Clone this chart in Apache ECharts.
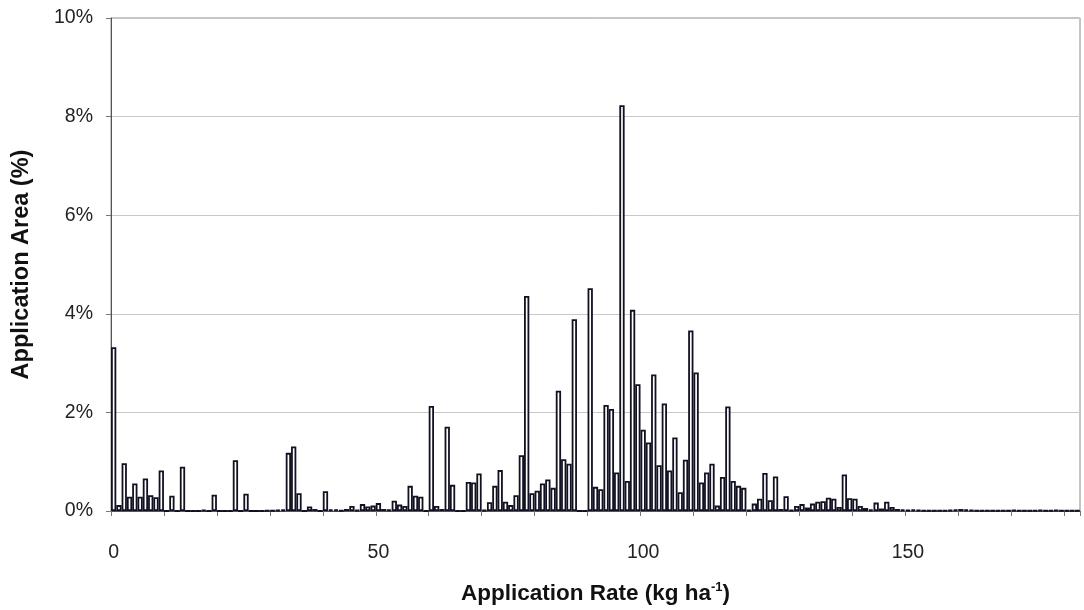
<!DOCTYPE html>
<html>
<head>
<meta charset="utf-8">
<script src="https://cdn.jsdelivr.net/npm/echarts@6/dist/echarts.min.js"></script>
<style>
html,body{margin:0;padding:0;background:#fff;}
#chart{width:1084px;height:610px;}
</style>
</head>
<body>
<div id="chart"></div>
<script>
// Application rate bins (kg/ha), 0..182
const rates = Array.from({length: 183}, (_, i) => String(i));

// Application area (%) per rate bin
const area0to49 = [
  3.32, 0.12, 0.97, 0.29, 0.56, 0.29, 0.66, 0.32, 0.28, 0.82,
  0, 0.31, 0, 0.90, 0, 0, 0, 0.02, 0, 0.33,
  0, 0, 0, 1.03, 0, 0.35, 0, 0, 0, 0.01,
  0.01, 0.02, 0.03, 1.18, 1.31, 0.36, 0, 0.09, 0.04, 0,
  0.40, 0.03, 0.03, 0.01, 0.04, 0.10, 0.02, 0.14, 0.09, 0.11
];
const area50to99 = [
  0.16, 0.04, 0.03, 0.21, 0.13, 0.10, 0.51, 0.31, 0.29, 0,
  2.13, 0.10, 0.04, 1.71, 0.53, 0, 0, 0.59, 0.58, 0.76,
  0.02, 0.18, 0.51, 0.83, 0.19, 0.12, 0.32, 1.13, 4.36, 0.36,
  0.41, 0.56, 0.64, 0.47, 2.44, 1.05, 0.96, 3.89, 0, 0,
  4.52, 0.49, 0.44, 2.15, 2.07, 0.78, 8.23, 0.61, 4.08, 2.57
];
const area100to149 = [
  1.65, 1.39, 2.77, 0.93, 2.18, 0.82, 1.49, 0.38, 1.04, 3.66,
  2.81, 0.58, 0.78, 0.96, 0.11, 0.69, 2.12, 0.61, 0.51, 0.47,
  0.02, 0.15, 0.25, 0.77, 0.22, 0.70, 0.04, 0.30, 0.02, 0.10,
  0.14, 0.07, 0.15, 0.19, 0.20, 0.27, 0.25, 0.08, 0.74, 0.26,
  0.25, 0.10, 0.06, 0.03, 0.17, 0.05, 0.19, 0.08, 0.04, 0.03
];
const area150to182 = [
  0.02, 0.03, 0.02, 0.01, 0.01, 0.01, 0.01, 0.01, 0.02, 0.03,
  0.04, 0.03, 0.02, 0.01, 0.01, 0.01, 0.01, 0.01, 0.01, 0.01,
  0.02, 0.01, 0.01, 0.01, 0.01, 0.02, 0.01, 0.01, 0.02, 0.01,
  0.01, 0.01, 0.01
];
const areaValues = area0to49.concat(area50to99, area100to149, area150to182);

const yTicks = [0, 2, 4, 6, 8, 10];

const chart = echarts.init(document.getElementById('chart'), null, {renderer: 'canvas'});
const FONT = '"Liberation Sans", Arial, sans-serif';

chart.setOption({
  animation: false,
  backgroundColor: '#ffffff',
  grid: {
    left: 111, right: 4, top: 18, bottom: 97,
    show: true, borderColor: '#8a8a8a', borderWidth: 1, backgroundColor: 'transparent'
  },
  xAxis: {
    type: 'category',
    data: rates,
    boundaryGap: true,
    axisLine: {show: true, lineStyle: {color: '#555', width: 1}},
    axisTick: {
      show: true, length: 5, lineStyle: {color: '#777'},
      interval: function (index) { return index % 10 === 0; }
    },
    axisLabel: {
      interval: function (index) { return index % 50 === 0; },
      margin: 32, fontSize: 19.5, color: '#222', fontFamily: FONT
    },
    name: 'Application Rate (kg ha{sup|-1})',
    nameLocation: 'middle',
    nameGap: 70,
    nameTextStyle: {
      fontSize: 22.5, fontWeight: 'bold', color: '#111', fontFamily: FONT,
      rich: {
        sup: {fontSize: 13, fontWeight: 'bold', color: '#111', fontFamily: FONT, verticalAlign: 'top', padding: [0, 0, 12, 0]}
      }
    }
  },
  yAxis: {
    type: 'value',
    min: yTicks[0], max: yTicks[yTicks.length - 1], interval: 2,
    axisLine: {show: true, lineStyle: {color: '#555', width: 1}},
    axisTick: {show: true, length: 5, lineStyle: {color: '#777'}},
    splitLine: {show: true, lineStyle: {color: '#c8c8c8', width: 1}},
    axisLabel: {
      formatter: '{value}%', margin: 18, fontSize: 19.5, color: '#222', fontFamily: FONT
    },
    name: 'Application Area (%)',
    nameLocation: 'middle',
    nameGap: 77,
    nameTextStyle: {fontSize: 23.5, fontWeight: 'bold', color: '#111', fontFamily: FONT}
  },
  series: [{
    type: 'bar',
    data: areaValues,
    barCategoryGap: '0%',
    barGap: '0%',
    itemStyle: {color: '#ffffff', borderColor: '#111122', borderWidth: 1.8},
    emphasis: {disabled: true}
  }]
});
</script>
</body>
</html>
